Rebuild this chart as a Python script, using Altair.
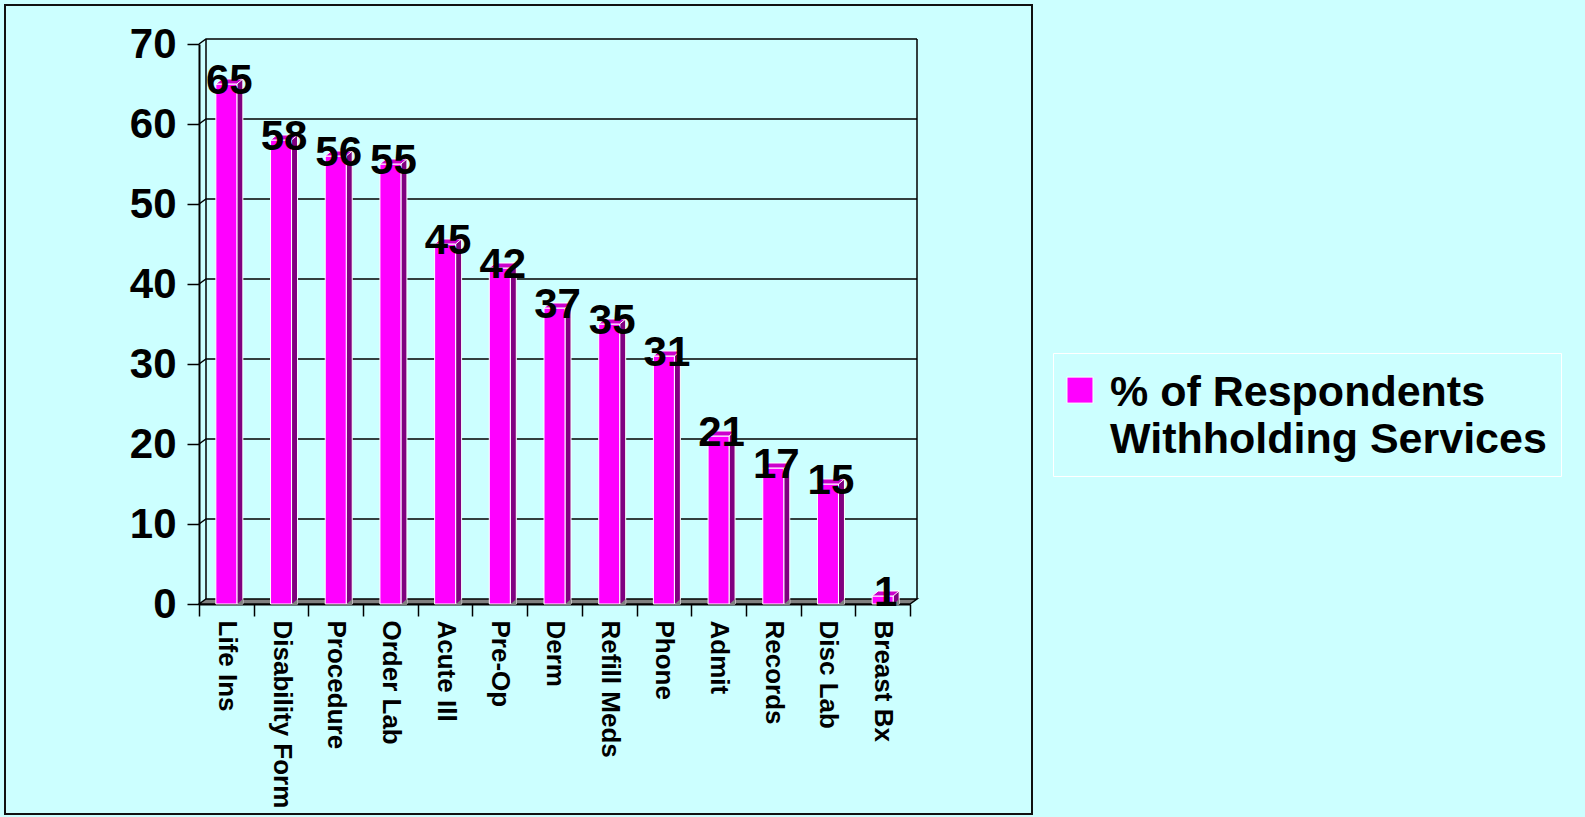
import altair as alt
import pandas as pd

# ---- data ----
categories = ["Life Ins", "Disability Form", "Procedure", "Order Lab", "Acute Ill",
              "Pre-Op", "Derm", "Refill Meds", "Phone", "Admit", "Records",
              "Disc Lab", "Breast Bx"]
values = [65, 58, 56, 55, 45, 42, 37, 35, 31, 21, 17, 15, 1]
series_lines = ["% of Respondents", "Withholding Services"]
y_ticks = [0, 10, 20, 30, 40, 50, 60, 70]

# ---- style ----
FONT = "Liberation Sans"
BG = "#CCFFFF"
FRONT = "#FF00FF"
SIDE = "#800080"
TOP = "#CC00CC"
FLOOR = "#808080"
W, H = 711, 560

df = pd.DataFrame({"cat": categories, "value": values,
                   "series": "|".join(series_lines)})
grid_df = pd.DataFrame({"tick": y_ticks[1:]})
one = pd.DataFrame({"z": [0]})

xscale = alt.Scale(paddingInner=0, paddingOuter=0)
yscale = alt.Scale(domain=[y_ticks[0], y_ticks[-1]], nice=False)

x_axis = alt.Axis(labelAngle=90, labelFont=FONT, labelFontSize=26, labelFontWeight="bold",
                  labelColor="black", labelPadding=4, tickSize=12, tickColor="black",
                  tickWidth=1.5, domainColor="black", domainWidth=2, tickBand="extent",
                  labelLimit=400, title=None)
y_axis = alt.Axis(values=y_ticks, labelFont=FONT, labelFontSize=42, labelFontWeight="bold",
                  labelColor="black", labelPadding=11, tickSize=12, tickColor="black",
                  tickWidth=1.5, domainColor="black", domainWidth=2, grid=False, title=None)

def xenc():
    return alt.X("cat:N", sort=categories, scale=xscale, axis=x_axis, title=None)

def yenc(field):
    return alt.Y(field, scale=yscale, axis=y_axis, title=None)

base = alt.Chart(df).transform_calculate(zero="0")
const = alt.Chart(one).transform_calculate(zero="0", top=str(y_ticks[-1]))

# outer frame (decoration)
frame = alt.Chart(one).mark_rect(filled=False, stroke="#111111", strokeWidth=2).encode(
    x=alt.value(-194), x2=alt.value(833), y=alt.value(-39), y2=alt.value(770))

# back-wall gridlines with diagonal from the front axis
grid = alt.Chart(grid_df).mark_point(
    shape="M0,0L7,-5L718,-5", size=4, filled=False, color="black",
    strokeWidth=1.5, opacity=1).encode(
    x=alt.value(0), y=yenc("tick:Q"))

wall_l = const.mark_rule(color="black", strokeWidth=1.5, yOffset=-5, y2Offset=-5).encode(
    x=alt.value(7), y=yenc("top:Q"), y2="zero:Q")
wall_r = const.mark_rule(color="black", strokeWidth=1.5, yOffset=-5, y2Offset=-5).encode(
    x=alt.value(718), y=yenc("top:Q"), y2="zero:Q")

floor = const.mark_point(
    shape="M0,0L7,-5L718,-5L711,0Z", size=4, filled=True, fill=FLOOR,
    stroke="black", strokeWidth=1.5, opacity=1).encode(
    x=alt.value(0), y=yenc("zero:Q"))

side = base.mark_bar(width=6, xOffset=13.5, yOffset=-5, color=SIDE,
                     stroke="white", strokeWidth=1).encode(
    x=xenc(), y=yenc("value:Q"), y2="zero:Q")

side_cut = base.mark_point(
    shape="M16.5,-5L16.5,0.5L10.5,0.5Z", size=4, filled=True, fill=FLOOR,
    strokeWidth=0, opacity=1).encode(
    x=xenc(), y=yenc("zero:Q"))

front = base.mark_bar(width=21, stroke="white", strokeWidth=1).encode(
    x=xenc(),
    y=yenc("value:Q"),
    y2="zero:Q",
    color=alt.Color("series:N", scale=alt.Scale(range=[FRONT]),
                    legend=alt.Legend(
                        title=" ", titleFontSize=1, titlePadding=16,
                        orient="none", legendX=854, legendY=309,
                        labelExpr="split(datum.label, '|')",
                        labelFont=FONT, labelFontSize=43, labelFontWeight="bold",
                        labelColor="black", labelLimit=1000, labelBaseline="alphabetic",
                        symbolType="M-1.654,-2.185H0.346V-0.185H-1.654Z", symbolSize=676,
                        symbolStrokeColor="white", symbolStrokeWidth=1,
                        symbolOpacity=1, labelOffset=0, padding=14,
                        fillColor=BG, strokeColor="white")))

top = base.mark_point(
    shape="M-10.5,0L-4.5,-5L16.5,-5L10.5,0Z", size=4, filled=True, fill=TOP,
    stroke="white", strokeWidth=1, opacity=1).encode(
    x=xenc(), y=yenc("value:Q"))

labels = base.mark_text(font=FONT, fontSize=42, fontWeight="bold", color="black",
                        dx=3, dy=-3, baseline="middle", align="center").encode(
    x=xenc(), y=yenc("value:Q"), text=alt.Text("value:Q"))

chart = alt.layer(frame, grid, wall_l, wall_r, floor, side, side_cut, front, top, labels).properties(
    width=W, height=H,
    padding={"left": 199, "top": 44, "right": 675, "bottom": 213},
    autosize=alt.AutoSizeParams(type="none"),
).configure(background=BG, style={"guide-label": {"lineHeight": 47}}).configure_view(stroke=None)

chart.save("out.html", embed_options={"renderer": "svg", "actions": False})
